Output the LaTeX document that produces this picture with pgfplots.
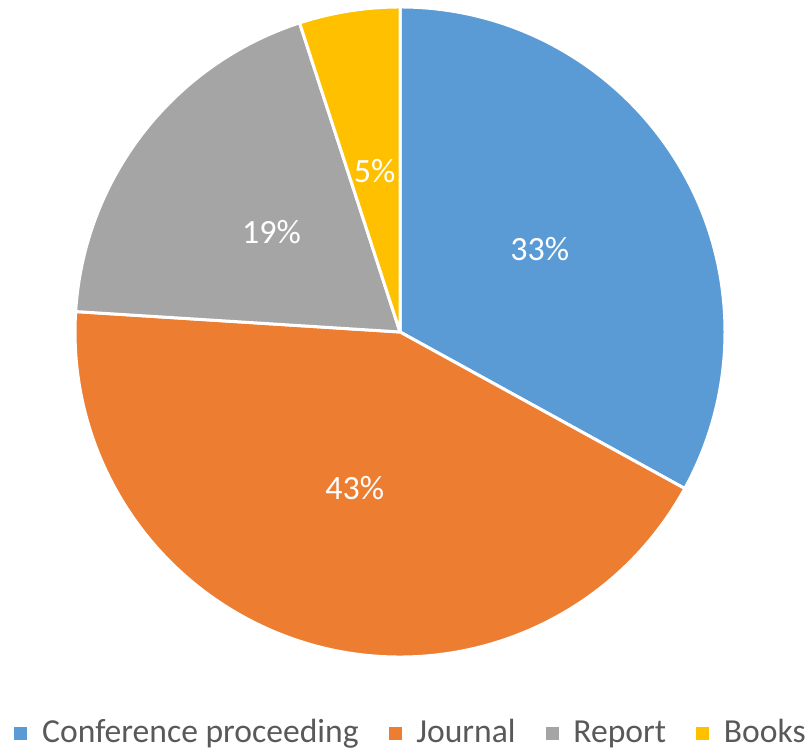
\documentclass[border=0pt]{standalone}
\usepackage{pgfplots}
\pgfplotsset{compat=1.18}
\usepackage{pgfplotstable}
\usepackage{fontspec}
\setmainfont{Carlito}
\definecolor{pieblue}{HTML}{5B9BD5}
\definecolor{pieorange}{HTML}{ED7D31}
\definecolor{piegrey}{HTML}{A5A5A5}
\definecolor{pieyellow}{HTML}{FFC000}
\definecolor{legtext}{HTML}{595959}
\pgfplotstableread[col sep=comma]{
label,value
Conference proceeding,33
Journal,43
Report,19
Books,5
}\piedata
\newcommand{\pieslice}[4]{%
  \fill[#1, draw=white, line width=1.5pt, line join=round]
    (axis cs:0,0) -- (axis cs:{cos(#2)},{sin(#2)})
    arc[start angle=#2, end angle=#3, radius=162.5pt] -- cycle;
  \node[text=white, font=\fontsize{17}{20}\selectfont, inner sep=0pt]
    at (axis cs:{0.5*cos((#2+#3)/2)},{0.5*sin((#2+#3)/2)}) {#4\%};
}
\begin{document}
\begin{tikzpicture}
\pgfplotstablegetelem{0}{value}\of\piedata \let\vA\pgfplotsretval
\pgfplotstablegetelem{1}{value}\of\piedata \let\vB\pgfplotsretval
\pgfplotstablegetelem{2}{value}\of\piedata \let\vC\pgfplotsretval
\pgfplotstablegetelem{3}{value}\of\piedata \let\vD\pgfplotsretval
\pgfmathsetmacro\aO{90}
\pgfmathsetmacro\aA{90-3.6*\vA}
\pgfmathsetmacro\aB{\aA-3.6*\vB}
\pgfmathsetmacro\aC{\aB-3.6*\vC}
\pgfmathsetmacro\aD{\aC-3.6*\vD}
\begin{axis}[
  x=162.5pt, y=162.5pt,
  xmin=-1.2308, xmax=1.2677, ymin=-1.2954, ymax=1.0215,
  hide axis, scale only axis, clip=false,
  legend columns=4,
  legend image code/.code={\fill[#1] (0pt,1.5pt) rectangle (6pt,7.5pt);},
  legend style={
    at={(axis cs:0.031,-1.274)}, anchor=south,
    draw=none, fill=none, inner sep=0pt,
    font=\fontsize{16.8}{20}\selectfont, text=legtext,
    nodes={inner sep=0pt, anchor=base west},
    /tikz/every odd column/.append style={column sep=7.5pt},
    /tikz/every even column/.append style={column sep=15pt},
  },
]
\path (axis cs:-1.2308,-1.2954) rectangle (axis cs:1.2677,1.0215);
\addlegendimage{pieblue}
\addlegendimage{pieorange}
\addlegendimage{piegrey}
\addlegendimage{pieyellow}
\legend{Conference proceeding, Journal, Report, Books}
\pieslice{pieblue}{\aO}{\aA}{\vA}
\pieslice{pieorange}{\aA}{\aB}{\vB}
\pieslice{piegrey}{\aB}{\aC}{\vC}
\pieslice{pieyellow}{\aC}{\aD}{\vD}
\end{axis}
\end{tikzpicture}
\end{document}
